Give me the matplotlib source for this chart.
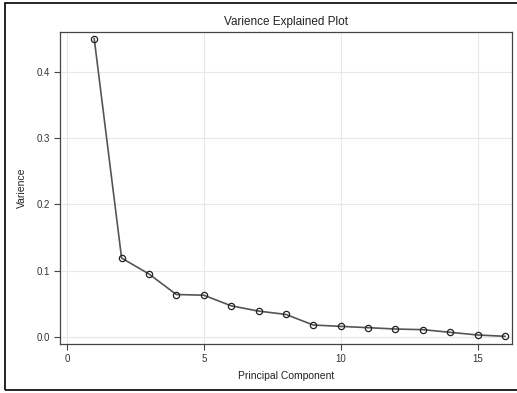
import matplotlib
matplotlib.use("Agg")
import matplotlib.pyplot as plt
from matplotlib.patches import Rectangle

components = list(range(1, 17))
variance = [0.450, 0.119, 0.095, 0.064, 0.063, 0.047, 0.039, 0.034,
            0.018, 0.016, 0.014, 0.012, 0.011, 0.007, 0.003, 0.001]
x_ticks = [0, 5, 10, 15]
y_ticks = [0.0, 0.1, 0.2, 0.3, 0.4]

plt.rcParams["font.family"] = ["Liberation Sans", "DejaVu Sans"]

fig = plt.figure(figsize=(5.17, 3.93), dpi=100)
ax = fig.add_axes([0.116, 0.1247, 0.874, 0.794])

# outer frame of the graph
fig.patches.append(Rectangle((5 / 517, 3 / 393), 1.0, 387 / 393,
                             transform=fig.transFigure, fill=False,
                             edgecolor="black", linewidth=1.2))

ax.plot(components, variance, color="#555555", linewidth=1.2,
        marker="o", markersize=4.5, markerfacecolor="none",
        markeredgecolor="#222222", markeredgewidth=0.9)

ax.set_xlim(-0.25, 16.25)
ax.set_ylim(-0.0106, 0.46)
ax.set_xticks(x_ticks)
ax.set_yticks(y_ticks)
ax.set_yticklabels([f"{v:.1f}" for v in y_ticks])
ax.grid(True, color="#e8e8e8", linewidth=0.8, linestyle="-")
ax.set_axisbelow(True)
for side in ax.spines.values():
    side.set_color("#444444")
    side.set_linewidth(0.9)
ax.tick_params(labelsize=7, length=4, color="#444444", labelcolor="#333333")

ax.set_xlabel("Principal Component", fontsize=7.5, color="#222222", labelpad=5)
ax.set_ylabel("Varience", fontsize=7.5, color="#222222", labelpad=7)
ax.set_title("Varience Explained Plot", fontsize=8.5, color="#222222", pad=5)

fig.savefig("out.png", dpi=100)
